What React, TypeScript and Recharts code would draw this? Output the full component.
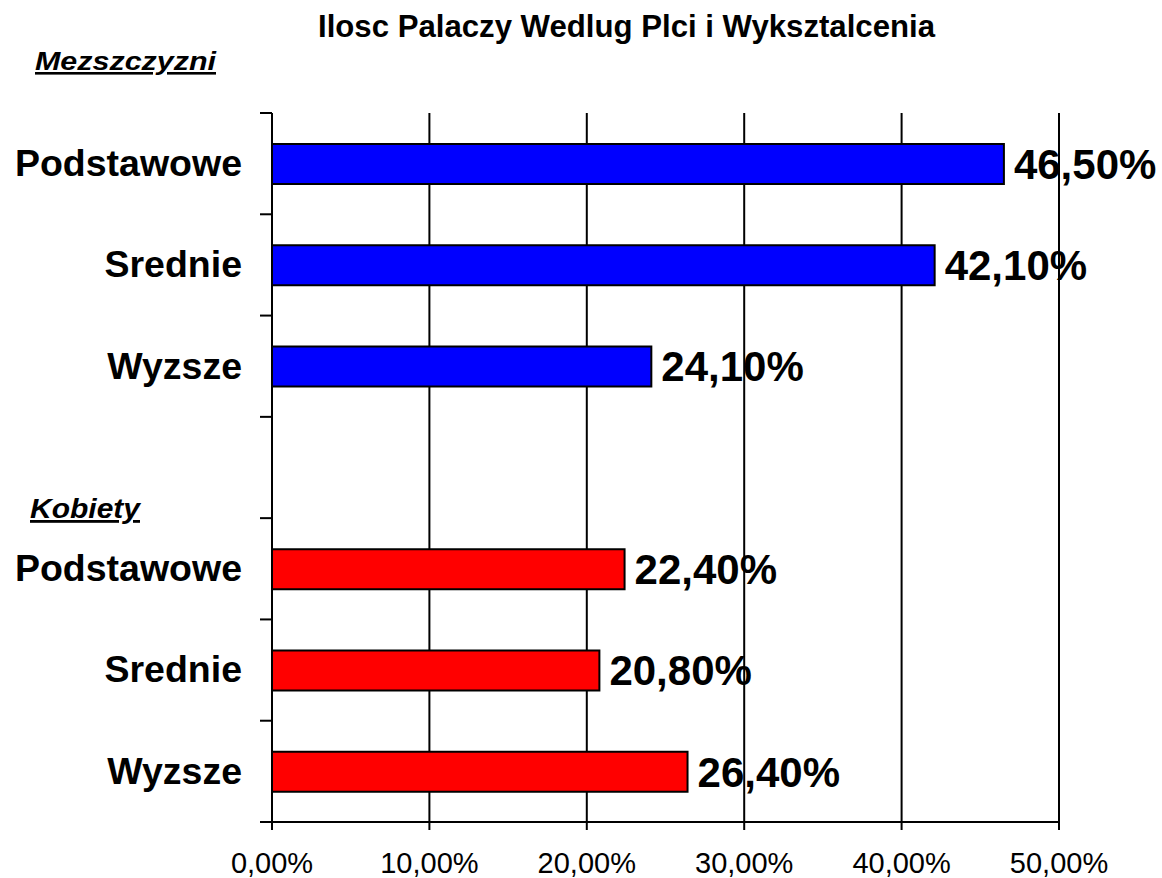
import React from 'react';
import {
  BarChart, Bar, XAxis, YAxis, CartesianGrid, Cell, LabelList,
} from 'recharts';

const categories = ['Podstawowe', 'Srednie', 'Wyzsze', '', 'Podstawowe', 'Srednie', 'Wyzsze'];
const groups = ['m', 'm', 'm', '', 'k', 'k', 'k'];
const values = [46.5, 42.1, 24.1, null, 22.4, 20.8, 26.4];
const xTicks = [0, 10, 20, 30, 40, 50];

const title = 'Ilosc Palaczy Wedlug Plci i Wyksztalcenia';
const groupLabels = { m: 'Mezszczyzni', k: 'Kobiety' };

const groupColors = { m: '#0000FF', k: '#FF0000', '': 'none' };

const data = categories.map((name, i) => {
  return {
    id: `c${i}`, name, group: groups[i], value: values[i],
  };
});

const FONT = '"Liberation Sans", Arial, Helvetica, sans-serif';

const CHART_W = 1162;
const CHART_H = 878;
const MARGIN = {
  top: 113, right: 103, left: 0, bottom: 0,
};
const X_AXIS_H = 56;
const Y_AXIS_W = 272;
const BAND = (CHART_H - MARGIN.top - MARGIN.bottom - X_AXIS_H) / categories.length;

const pct = (v) => { return `${v.toFixed(2).replace('.', ',')}%`; };

const CategoryTick = ({ x, y, index }) => {
  const name = categories[index] ?? '';
  const isLast = index === categories.length - 1;
  return (
    <g>
      <line x1={Y_AXIS_W - 12} x2={Y_AXIS_W} y1={y - BAND / 2} y2={y - BAND / 2} stroke="#000" strokeWidth={2} />
      {isLast && (
        <line x1={Y_AXIS_W - 12} x2={Y_AXIS_W} y1={y + BAND / 2} y2={y + BAND / 2} stroke="#000" strokeWidth={2} />
      )}
      <text x={x} y={y - 1} dy="0.355em" textAnchor="end" fontSize={37.5} fontWeight="bold" fill="#000" fontFamily={FONT}>
        {name}
      </text>
    </g>
  );
};

const App = () => {
  return (
    <div style={{
      position: 'absolute', left: 0, top: 0, width: CHART_W, height: CHART_H, background: '#fff',
    }}
    >
      <BarChart
        width={CHART_W}
        height={CHART_H}
        data={data}
        layout="vertical"
        margin={MARGIN}
        barCategoryGap={0}
      >
        <CartesianGrid horizontal={false} stroke="#000" strokeWidth={2} />
        <XAxis
          type="number"
          domain={[0, 50]}
          ticks={xTicks}
          interval={0}
          height={X_AXIS_H}
          stroke="#000"
          strokeWidth={2}
          tickSize={8}
          tickMargin={22}
          tickFormatter={pct}
          tick={{ fill: '#000', fontSize: 29, fontFamily: FONT }}
        />
        <YAxis
          type="category"
          dataKey="id"
          width={Y_AXIS_W}
          stroke="#000"
          strokeWidth={2}
          tickLine={false}
          tickSize={12}
          tickMargin={18}
          interval={0}
          tick={<CategoryTick />}
        />
        <Bar dataKey="value" barSize={40} stroke="#000" strokeWidth={2} isAnimationActive={false}>
          {data.map((d) => { return <Cell key={d.id} fill={groupColors[d.group]} />; })}
          <LabelList
            dataKey="value"
            position="right"
            offset={10}
            formatter={(v) => { return (v == null ? '' : pct(v)); }}
            fill="#000"
            fontSize={42}
            fontWeight="bold"
            fontFamily={FONT}
          />
        </Bar>
      </BarChart>
      <svg width={CHART_W} height={CHART_H} style={{ position: 'absolute', left: 0, top: 0, pointerEvents: 'none' }}>
        <text x={318} y={37} textLength={617} lengthAdjust="spacingAndGlyphs" fontSize={32} fontWeight="bold" fontFamily={FONT} fill="#000">
          {title}
        </text>
        <text x={35} y={70} textLength={181} lengthAdjust="spacingAndGlyphs" fontSize={26} fontWeight="bold" fontStyle="italic" textDecoration="underline" fontFamily={FONT} fill="#000">
          {groupLabels.m}
        </text>
        <text x={30} y={518} textLength={110} lengthAdjust="spacingAndGlyphs" fontSize={28} fontWeight="bold" fontStyle="italic" textDecoration="underline" fontFamily={FONT} fill="#000">
          {groupLabels.k}
        </text>
      </svg>
    </div>
  );
};

export default App;
